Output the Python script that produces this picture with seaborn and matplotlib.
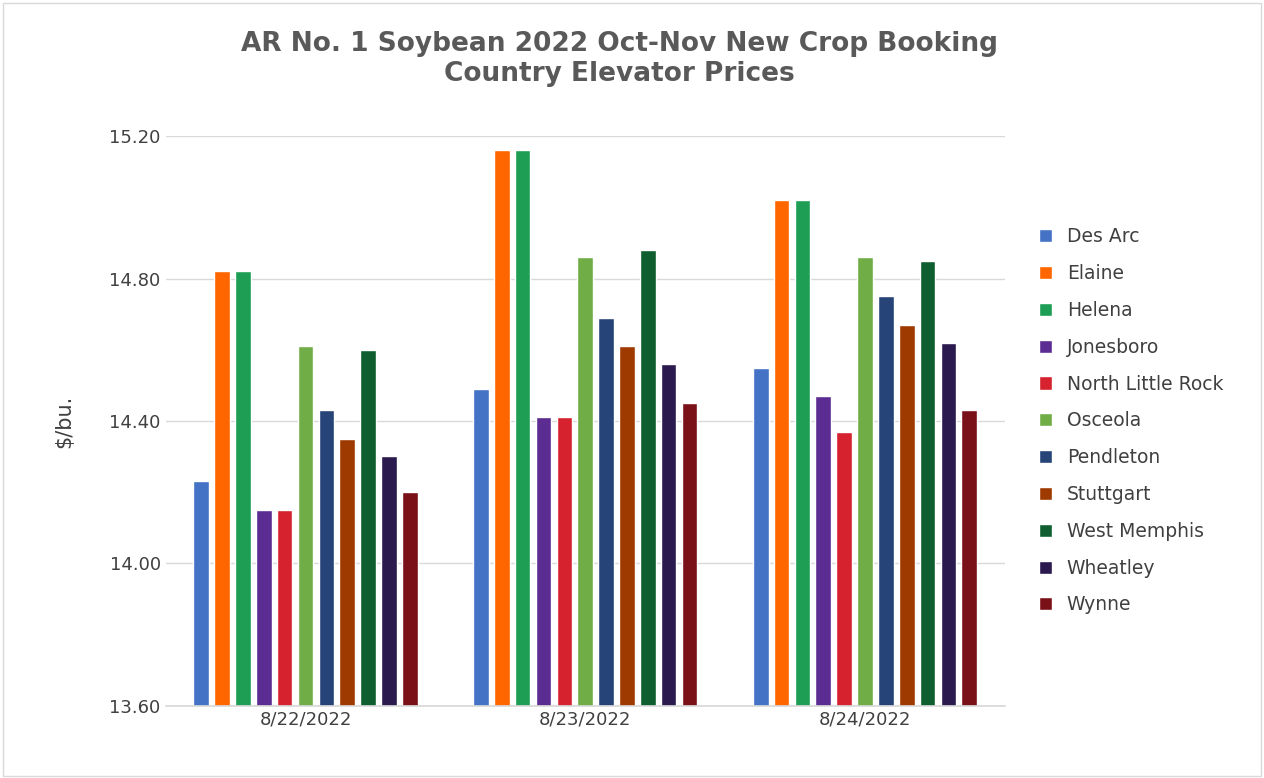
import matplotlib
matplotlib.use("Agg")
import matplotlib.pyplot as plt
import seaborn as sns
import pandas as pd

dates = ["8/22/2022", "8/23/2022", "8/24/2022"]
locations = ["Des Arc", "Elaine", "Helena", "Jonesboro", "North Little Rock", "Osceola",
             "Pendleton", "Stuttgart", "West Memphis", "Wheatley", "Wynne"]
p_0822 = [14.23, 14.82, 14.82, 14.15, 14.15, 14.61, 14.43, 14.35, 14.60, 14.30, 14.20]
p_0823 = [14.49, 15.16, 15.16, 14.41, 14.41, 14.86, 14.69, 14.61, 14.88, 14.56, 14.45]
p_0824 = [14.55, 15.02, 15.02, 14.47, 14.37, 14.86, 14.75, 14.67, 14.85, 14.62, 14.43]
colors = ["#4472C4", "#FF6600", "#1E9E55", "#5B2C91", "#D5222E", "#70AD47",
          "#264478", "#9E3A00", "#0E5E30", "#2A1A4E", "#7A1119"]

rows = []
for d, vals in zip(dates, [p_0822, p_0823, p_0824]):
    for loc, v in zip(locations, vals):
        rows.append({"date": d, "loc": loc, "price": v})
df = pd.DataFrame(rows)

sns.set_theme(style="white")
plt.rcParams['font.family'] = ['DejaVu Sans']
fig = plt.figure(figsize=(12.64, 7.78), dpi=100)
ax = fig.add_axes([0.131, 0.093, 0.664, 0.732])
sns.barplot(data=df, x="date", y="price", hue="loc", palette=colors, ax=ax,
            width=0.82, gap=0.25, saturation=1, legend=True)
ax.set_ylim(13.6, 15.2)
ax.set_yticks([13.6, 14.0, 14.4, 14.8, 15.2])
ax.set_yticklabels([f"{v:.2f}" for v in [13.6, 14.0, 14.4, 14.8, 15.2]], fontsize=13, color="#404040")
ax.tick_params(axis='x', labelsize=13, colors="#404040", length=0)
ax.tick_params(axis='y', length=0)
ax.grid(axis='y', color="#D9D9D9", lw=1)
ax.set_axisbelow(True)
for s in ["top", "right", "left"]:
    ax.spines[s].set_visible(False)
ax.spines["bottom"].set_color("#D9D9D9")
ax.set_xlabel("")
ax.set_ylabel("$/bu.", fontsize=15, color="#404040", labelpad=25)
fig.suptitle("AR No. 1 Soybean 2022 Oct-Nov New Crop Booking\nCountry Elevator Prices",
             fontsize=19, fontweight="bold", color="#595959", y=0.96, x=0.49)
h, l = ax.get_legend_handles_labels()
ax.legend(h, l, loc="center left", bbox_to_anchor=(1.02, 0.5), frameon=False,
          fontsize=13.5, labelcolor="#404040", handlelength=0.7, handleheight=0.7,
          labelspacing=0.95)
fig.patches.append(plt.Rectangle((0.002, 0.002), 0.996, 0.994, transform=fig.transFigure,
                                 fill=False, edgecolor="#D9D9D9", lw=1))
fig.savefig("out.png", dpi=100)
